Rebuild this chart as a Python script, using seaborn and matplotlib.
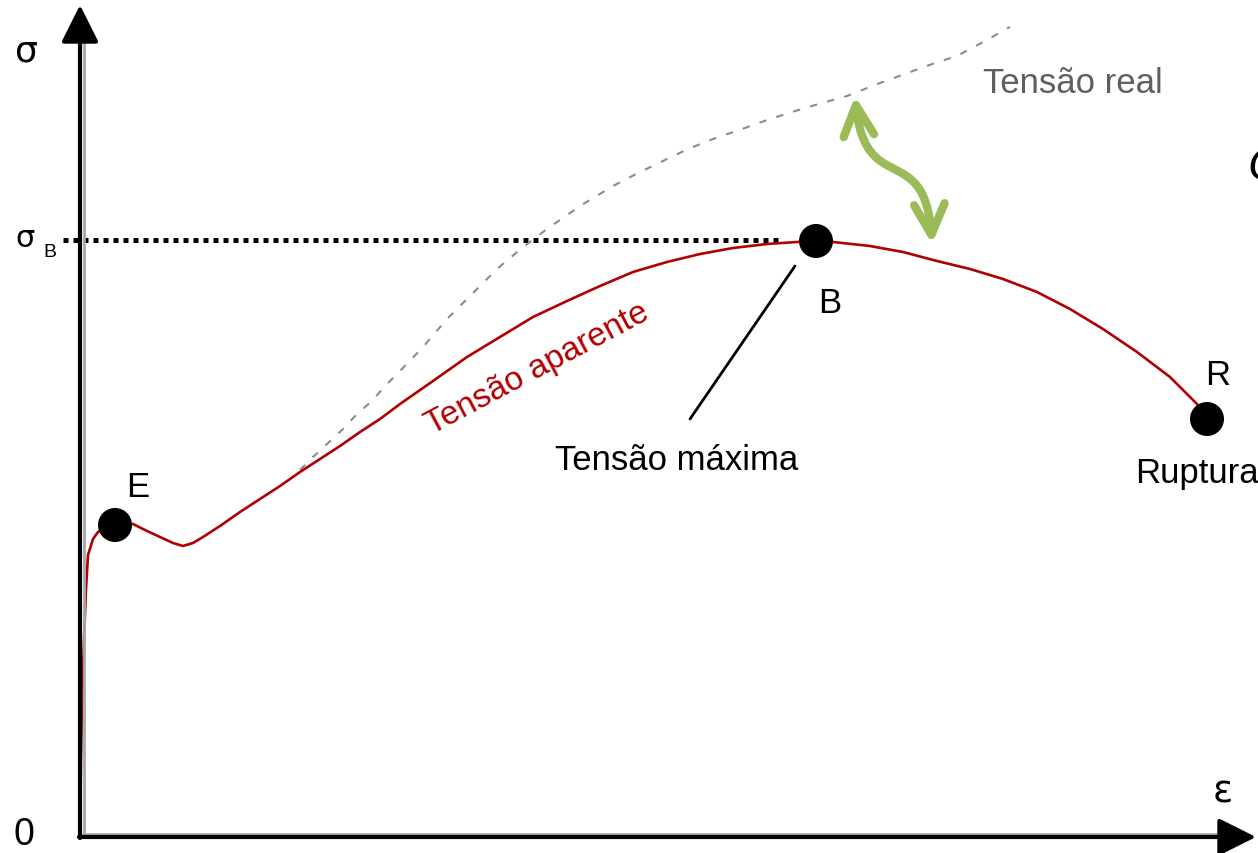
import numpy as np
import pandas as pd
import seaborn as sns
import matplotlib.pyplot as plt
from matplotlib.patches import FancyArrowPatch
from matplotlib.path import Path

# curva tensao aparente (deformacao, tensao)
eps_ap = [0, 1, 2, 4, 6, 8, 13, 18, 26, 35, 53, 67, 80, 93, 103, 113, 123, 140,
          160, 180, 200, 220, 240, 260, 280, 300, 320, 353, 387, 420, 453, 487,
          520, 553, 587, 620, 653, 687, 717, 736, 753, 790, 823, 857, 890, 923,
          957, 990, 1023, 1057, 1090, 1117, 1127]
sig_ap = [0, 78, 138, 198, 248, 282, 298, 305, 310, 312, 313, 306, 300, 294, 291,
          294, 300, 311, 325, 338, 351, 365, 378, 391, 405, 418, 433, 456, 480,
          500, 520, 536, 551, 565, 575, 583, 589, 593, 595, 596, 595, 591, 585,
          576, 568, 558, 545, 528, 508, 485, 460, 433, 419]

# curva tensao real
eps_real = [220, 233, 247, 263, 277, 292, 305, 320, 343, 367, 392, 417, 442, 467,
            500, 533, 558, 583, 608, 633, 662, 690, 728, 767, 800, 833, 855, 877,
            905, 930]
sig_real = [367, 380, 393, 408, 423, 436, 451, 466, 490, 518, 543, 568, 589, 608,
            631, 651, 664, 676, 688, 698, 708, 718, 730, 741, 754, 766, 774, 781,
            796, 810]

# pontos notaveis
pt_names = ['E', 'B', 'R']
pt_eps = [35, 736, 1127]
pt_sig = [312, 596, 418]

sigma_b = 597

df_ap = pd.DataFrame({'eps': eps_ap, 'sig': sig_ap})
df_real = pd.DataFrame({'eps': eps_real, 'sig': sig_real})
df_pts = pd.DataFrame({'nome': pt_names, 'eps': pt_eps, 'sig': pt_sig})

sns.set_theme(style='white')
plt.rcParams['font.family'] = ['Liberation Sans', 'DejaVu Sans']
plt.rcParams['text.color'] = 'black'

fig = plt.figure(figsize=(12.58, 8.54), dpi=100)
ax = fig.add_axes([0, 0, 1, 1])
ax.set_xlim(-80, 1178)
ax.set_ylim(-16, 838)
ax.axis('off')

# eixos com setas (sombra cinza por dentro)
ax.plot([3.5, 3.5], [3, 800], color='#a8a8a8', lw=2, zorder=4)
ax.plot([3, 1150], [3.5, 3.5], color='#a8a8a8', lw=2, zorder=4)
arrow_kw = dict(arrowstyle='-|>,head_length=2.3,head_width=1.15', color='black',
                lw=3, shrinkA=0, shrinkB=0, mutation_scale=10)
ax.annotate('', xy=(0, 832), xytext=(0, -1), arrowprops=arrow_kw, zorder=5,
            annotation_clip=False)
ax.annotate('', xy=(1176, 0), xytext=(-1, 0), arrowprops=arrow_kw, zorder=5,
            annotation_clip=False)

# linha pontilhada sigma_B
ax.plot([-17, 698], [sigma_b, sigma_b], color='black', lw=3.6,
        linestyle=(0, (1, 1)), zorder=2)

# tensao real (tracejada)
sns.lineplot(data=df_real, x='eps', y='sig', sort=False, estimator=None, ax=ax,
             color='#8c8c8c', linewidth=1.5, linestyle=(0, (3.5, 5)), zorder=2)

# tensao aparente
sns.lineplot(data=df_ap, x='eps', y='sig', sort=False, estimator=None, ax=ax,
             color='#b00000', linewidth=1.9, zorder=3)

# pontos E, B, R
sns.scatterplot(data=df_pts, x='eps', y='sig', ax=ax, color='black', s=600,
                edgecolor='none', zorder=6)

# linha indicando tensao maxima
ax.plot([715, 610], [571, 418], color='black', lw=2, zorder=4)

# seta verde dupla
verts = [(775, 741), (785, 638), (845, 698), (852, 593)]
codes = [Path.MOVETO, Path.CURVE4, Path.CURVE4, Path.CURVE4]
green = FancyArrowPatch(path=Path(verts, codes),
                        arrowstyle='<->,head_length=2.2,head_width=1.1',
                        mutation_scale=10, lw=6, color='#9bbb59',
                        capstyle='round', joinstyle='round', zorder=4)
ax.add_patch(green)

ax.set_xlabel('')
ax.set_ylabel('')

# textos
fs = 25
ax.text(-54, 777, 'σ', fontsize=26, ha='center', va='baseline', family=['DejaVu Sans'])
ax.text(-55, 591, 'σ', fontsize=22, ha='center', va='baseline', family=['DejaVu Sans'])
ax.text(-30, 581, 'B', fontsize=14, ha='center', va='baseline')
ax.text(-56, -7, '0', fontsize=27, ha='center', va='baseline')
ax.text(1143, 35, 'ε', fontsize=27, ha='center', va='baseline', family=['DejaVu Sans'])

ax.text(58, 341, 'E', fontsize=fs, ha='center', va='baseline')
ax.text(750, 525, 'B', fontsize=fs, ha='center', va='baseline')
ax.text(1138, 453, 'R', fontsize=fs, ha='center', va='baseline')
ax.text(1055, 355, 'Ruptura', fontsize=fs, ha='left', va='baseline')
ax.text(475, 368, 'Tensão máxima', fontsize=fs, ha='left', va='baseline')
ax.text(903, 745, 'Tensão real', fontsize=fs, ha='left', va='baseline', color='#5f5f5f')
ax.text(457, 469, 'Tensão aparente', fontsize=24, ha='center', va='center',
        rotation=28, rotation_mode='anchor', color='#b00000')
ax.text(1167, 658, 'C', fontsize=34, ha='left', va='baseline', style='italic')

fig.savefig('out.png', dpi=100)
